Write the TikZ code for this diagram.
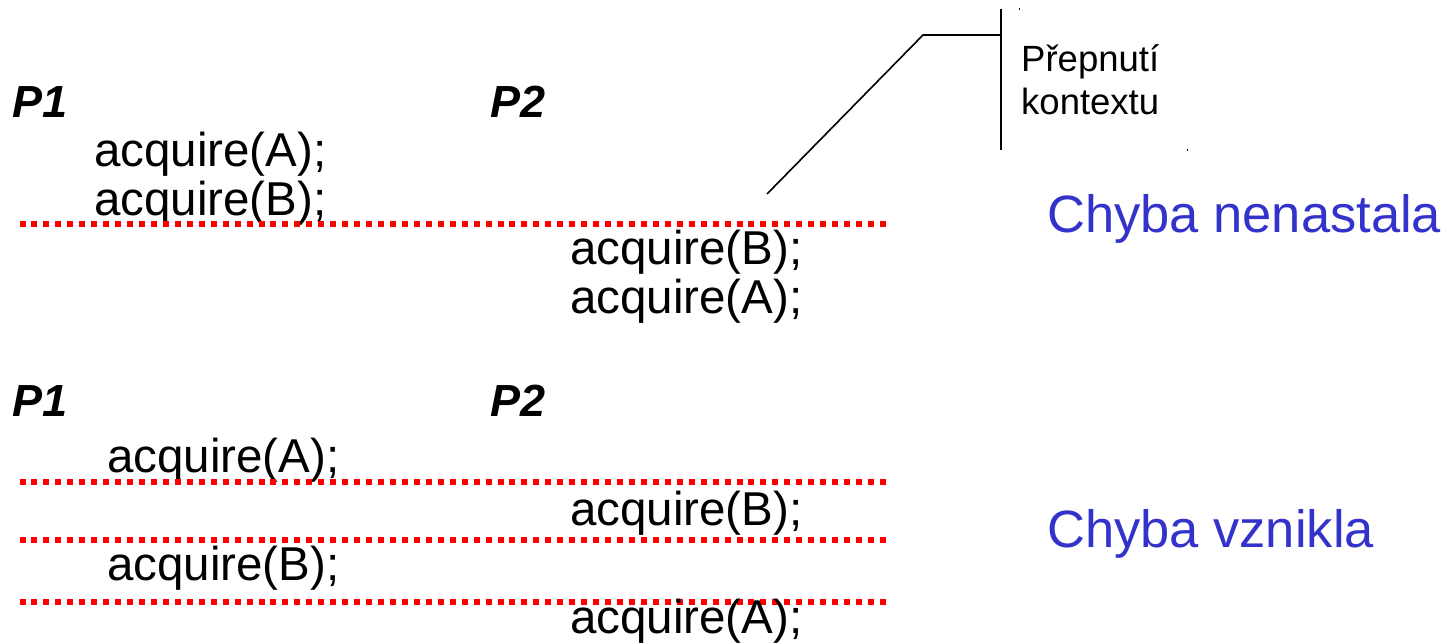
\documentclass[tikz,border=0pt]{standalone}
\usepackage{fontspec}
\setmainfont{Liberation Sans}
\definecolor{chybablue}{RGB}{51,51,204}
\definecolor{dotred}{RGB}{255,0,0}
\tikzset{
  code/.style={anchor=base west, inner sep=0pt, font=\fontsize{47.5}{48}\selectfont},
  proc/.style={anchor=base west, inner sep=0pt, font=\fontsize{45}{46}\selectfont\bfseries\itshape},
  result/.style={anchor=base west, inner sep=0pt, text=chybablue, font=\fontsize{52.5}{54}\selectfont},
  note/.style={anchor=base west, inner sep=0pt, font=\fontsize{36.5}{38}\selectfont},
  switchline/.style={draw=dotred, line width=6pt, dash pattern=on 6pt off 5.95pt},
  callout/.style={draw=black, line width=1.6pt}
}
\begin{document}
\begin{tikzpicture}[x=1pt,y=-1pt]
\useasboundingbox (0,0) rectangle (1447,644);
% --- upper scenario
\node[proc] (p1a) at (12,118) {P1};
\node[proc] (p2a) at (490,118) {P2};
\node[code] (a1) at (94,167) {acquire(A);};
\node[code] (a2) at (94,216) {acquire(B);};
\draw[switchline] (19.5,224.3) coordinate (s1l) -- (885.8,224.3) coordinate (s1r);
\node[code] (a3) at (570,265) {acquire(B);};
\node[code] (a4) at (570,313) {acquire(A);};
\node[result] (r1) at (1047,233) {Chyba nenastala};
% --- callout
\node[note] (n1) at (1021,72) {Přepnutí};
\node[note] (n2) at (1021,115) {kontextu};
\coordinate (ctop) at (1001,9);
\coordinate (cbot) at (1001,150);
\coordinate (cmid) at (1001,35);
\coordinate (cknee) at (923,35);
\coordinate (ctip) at (767,194);
\draw[callout] (ctop) -- (cbot);
\draw[callout] (cmid) -- (cknee) -- (ctip);
\fill (1018.5,8.5) rectangle (1020,10);
\fill (1186.5,149.5) rectangle (1188,151);
% --- lower scenario
\node[proc] (p1b) at (12,416) {P1};
\node[proc] (p2b) at (490,416) {P2};
\node[code] (b1) at (107,472) {acquire(A);};
\draw[switchline] (19.5,482.3) coordinate (s2l) -- (885.8,482.3) coordinate (s2r);
\node[code] (b2) at (570,525) {acquire(B);};
\draw[switchline] (19.5,540) coordinate (s3l) -- (885.8,540) coordinate (s3r);
\node[code] (b3) at (107,580) {acquire(B);};
\draw[switchline] (19.5,602) coordinate (s4l) -- (885.8,602) coordinate (s4r);
\node[code] (b4) at (570,633) {acquire(A);};
\node[result] (r2) at (1047,547) {Chyba vznikla};
\end{tikzpicture}
\end{document}
